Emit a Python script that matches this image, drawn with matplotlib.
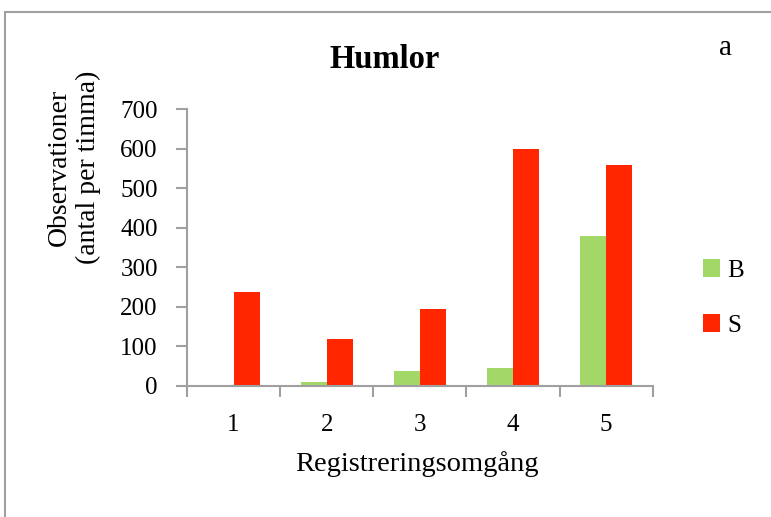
import matplotlib.pyplot as plt
import numpy as np
from matplotlib.patches import Rectangle

rounds = [1, 2, 3, 4, 5]
b_vals = [2, 9, 38, 46, 379]
s_vals = [237, 119, 195, 600, 558]
green = '#A3D869'
red = '#FF2600'
grey = '#A0A0A0'

plt.rcParams['font.family'] = 'Liberation Serif'

fig = plt.figure(figsize=(7.71, 5.17), dpi=100)
# outer frame
fig.patches.append(Rectangle((5 / 771, -0.1), 1.2, (517 - 12) / 517 + 0.1,
                             transform=fig.transFigure, fill=False,
                             edgecolor=grey, linewidth=1.5))

ax = fig.add_axes([187 / 771, 1 - 386 / 517, (652.7 - 187) / 771, (386 - 109) / 517])
x = np.array(rounds)
w = 0.28
ax.bar(x - w / 2, b_vals, w, color=green, label='B')
ax.bar(x + w / 2, s_vals, w, color=red, label='S')

ax.set_xlim(0.5, 5.5)
ax.set_ylim(0, 700)
ax.set_yticks(range(0, 701, 100))
ax.set_xticks(rounds)
ax.set_xticks(np.arange(0.5, 5.6, 1), minor=True)
ax.tick_params(axis='x', which='major', length=0, labelsize=18, pad=20)
ax.tick_params(axis='x', which='minor', length=8, width=1.5, color=grey)
ax.tick_params(axis='y', length=8, width=1.5, color=grey, labelsize=18, pad=13)
for s in ['top', 'right']:
    ax.spines[s].set_visible(False)
for s in ['left', 'bottom']:
    ax.spines[s].set_color(grey)
    ax.spines[s].set_linewidth(1.5)

fig.text(385 / 771, 1 - 60 / 517, 'Humlor', ha='center', va='center',
         fontsize=23.5, fontweight='bold')
fig.text(725 / 771, 1 - 48 / 517, 'a', ha='center', va='center', fontsize=21)
fig.text(74 / 771, 1 - 167 / 517, 'Observationer\n(antal per timma)', rotation=90,
         ha='center', va='center', fontsize=20, multialignment='center',
         linespacing=1.2)
fig.text(417 / 771, 1 - 464 / 517, 'Registreringsomgång', ha='center', va='center',
         fontsize=20.5)

fig.legend(loc='center left', bbox_to_anchor=(680 / 771, 1 - 298 / 517),
           frameon=False, fontsize=18, handlelength=0.7, handleheight=0.7,
           handletextpad=0.3, labelspacing=1.3)

fig.savefig('out.png', dpi=100)
